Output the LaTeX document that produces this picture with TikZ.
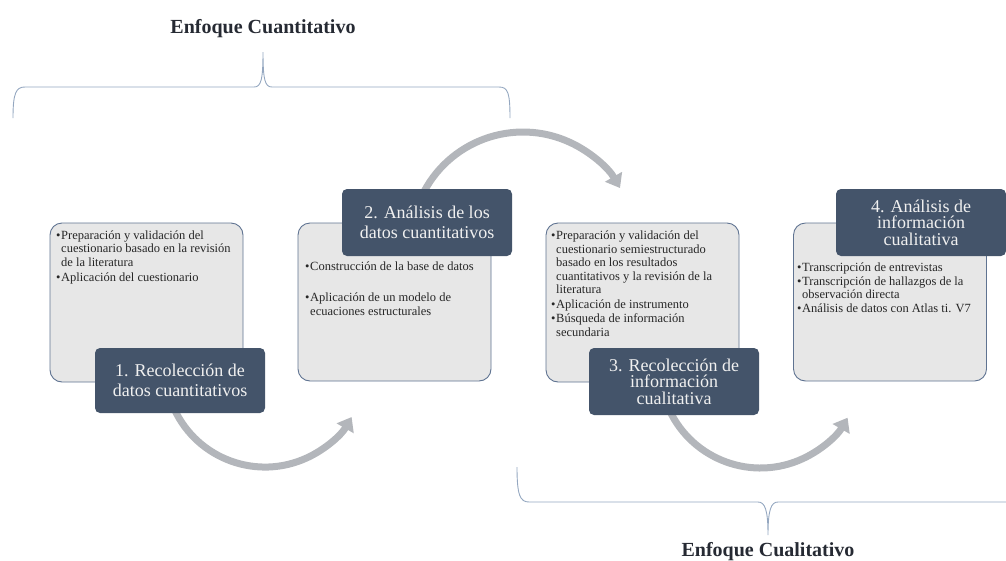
\documentclass[tikz,border=0pt]{standalone}
\usepackage{fontspec}
\setmainfont{Liberation Serif}
\usetikzlibrary{arrows.meta}
\definecolor{cDark}{HTML}{44546A}
\definecolor{cLight}{HTML}{E7E7E7}
\definecolor{cBorder}{HTML}{5F7391}
\definecolor{cArrow}{HTML}{B3B6BB}
\definecolor{cBrace}{HTML}{94A7C0}
\definecolor{cTitle}{HTML}{262A33}
\newcommand{\bu}{\makebox[5pt][l]{\textbullet}}
\newcommand{\ind}{\hspace*{5pt}}
\begin{document}
\begin{tikzpicture}[x=1pt,y=-1pt,
  lightbox/.style={draw=cBorder, line width=0.9pt, fill=cLight, rounded corners=12pt, inner sep=0pt, minimum width=193pt},
  darkbox/.style={fill=cDark, rounded corners=5pt, inner sep=0pt, minimum width=170pt, text=white!94!black, align=center},
  twoline/.style={font=\fontsize{18}{20.5}\selectfont},
  threeline/.style={font=\fontsize{18}{16.5}\selectfont},
  bullettext/.style={anchor=north west, inner sep=0pt, align=left, text=black!85, font=\fontsize{12.5}{13.5}\selectfont},
  flowarrow/.style={draw=cArrow, line width=7pt, -{Triangle[width=19pt,length=13pt]}},
  bracepath/.style={draw=cBrace, line width=0.9pt},
  titletext/.style={font=\fontsize{20}{22}\selectfont\bfseries, text=cTitle, inner sep=0pt, anchor=base}
]
\useasboundingbox (0,0) rectangle (1006,560);

% braces and titles
\node[titletext] (tq) at (263,33) {Enfoque Cuantitativo};
\draw[bracepath] (13,118) .. controls (13,93) and (16,87) .. (25,87) -- (254,87)
  .. controls (261,87) and (263,80) .. (263,52)
  .. controls (263,80) and (265,87) .. (272,87) -- (499,87)
  .. controls (508,87) and (510,93) .. (510,118);
\node[titletext] (tl) at (768,556) {Enfoque Cualitativo};
\draw[bracepath] (517,467) .. controls (517,495) and (520,502) .. (529,502) -- (758,502)
  .. controls (765,502) and (768,510) .. (768,535)
  .. controls (768,510) and (771,502) .. (778,502) -- (1010,502);

% arrows (behind boxes)
\coordinate (a1s) at (174.4,409.3);
\coordinate (a2s) at (421.5,196.7);
\coordinate (a3s) at (669.3,409.9);
\draw[flowarrow] (a1s) arc[start angle=155, end angle=30, radius=100];
\draw[flowarrow] (a2s) arc[start angle=205, end angle=330, radius=112];
\draw[flowarrow] (a3s) arc[start angle=155, end angle=30, radius=100.6];

% light boxes
\node[lightbox, minimum height=159pt] (b1) at (146.5,302.5) {};
\node[lightbox, minimum height=158pt] (b2) at (394.5,302) {};
\node[lightbox, minimum height=159pt] (b3) at (642.5,302.5) {};
\node[lightbox, minimum height=158pt] (b4) at (890,302) {};

% bullet texts
\node[bullettext] (t1) at (56,230.5) {\bu Preparación y validación del\\
\ind cuestionario basado en la revisión\\
\ind de la literatura\\[1.5pt]
\bu Aplicación del cuestionario};
\node[bullettext] (t2) at (305,262) {\bu Construcción de la base de datos\\[17.5pt]
\bu Aplicación de un modelo de\\
\ind ecuaciones estructurales};
\node[bullettext] (t3) at (551,231) {\bu Preparación y validación del\\
\ind cuestionario semiestructurado\\
\ind basado en los resultados\\
\ind cuantitativos y la revisión de la\\
\ind literatura\\[1.5pt]
\bu Aplicación de instrumento\\[0.5pt]
\bu Búsqueda de información\\
\ind secundaria};
\node[bullettext] (t4) at (797,263) {\bu Transcripción de entrevistas\\
\bu Transcripción de hallazgos de la\\
\ind observación directa\\[0.5pt]
\bu Análisis de datos con Atlas ti. V7};

% dark title boxes
\node[darkbox, twoline, minimum height=65pt] (d1) at (180,380.5) {1. Recolección de\\datos cuantitativos};
\node[darkbox, twoline, minimum height=67pt] (d2) at (427,222.5) {2. Análisis de los\\datos cuantitativos};
\node[darkbox, threeline, minimum height=67pt] (d3) at (674,381.5) {3. Recolección de\\información\\cualitativa};
\node[darkbox, threeline, minimum height=67pt] (d4) at (921,222.5) {4. Análisis de\\información\\cualitativa};
\end{tikzpicture}
\end{document}
